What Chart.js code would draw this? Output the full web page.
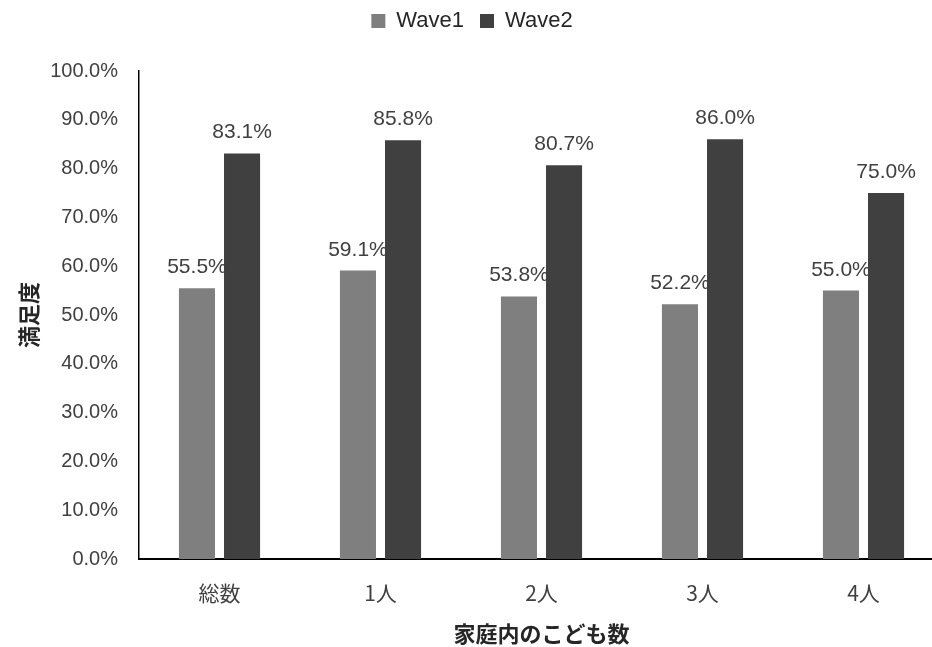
<!DOCTYPE html>
<html lang="ja">
<head>
    <meta charset="UTF-8">
    <title>家庭内のこども数と満足度</title>
    <script src="https://cdn.jsdelivr.net/npm/chart.js"></script>
    <style>
        html, body { margin: 0; padding: 0; background: #fff; overflow: hidden; }
        #wrap { width: 950px; height: 647px; }
    </style>
</head>
<body>
    <div id="wrap"><canvas id="satChart"></canvas></div>

    <script>
        const categories = ['総数', '1人', '2人', '3人', '4人'];
        const wave1 = [55.5, 59.1, 53.8, 52.2, 55.0];
        const wave2 = [83.1, 85.8, 80.7, 86.0, 75.0];
        const seriesNames = ['Wave1', 'Wave2'];
        const yTitle = '満足度';
        const xTitle = '家庭内のこども数';

        const numFont = '"Liberation Sans", Arial, sans-serif';
        const jpFont = '"Noto Sans CJK JP", "Noto Sans", sans-serif';

        // draws the value above each bar
        const valueLabels = {
            id: 'valueLabels',
            afterDatasetsDraw(chart) {
                const ctx = chart.ctx;
                ctx.save();
                ctx.font = '21px ' + numFont;
                ctx.fillStyle = '#404040';
                ctx.textAlign = 'center';
                ctx.textBaseline = 'alphabetic';
                chart.data.datasets.forEach((ds, i) => {
                    chart.getDatasetMeta(i).data.forEach((bar, j) => {
                        ctx.fillText(ds.data[j].toFixed(1) + '%', bar.x, bar.y - 15);
                    });
                });
                ctx.restore();
            }
        };

        // fixes the legend height so the plot starts where it should,
        // and nudges the legend up a little
        const legendHeight = {
            id: 'legendHeight',
            beforeInit(chart) {
                const fit = chart.legend.fit;
                chart.legend.fit = function () {
                    fit.bind(chart.legend)();
                    this.height = 71;
                };
            },
            afterLayout(chart) {
                chart.legend.top -= 6;
                chart.legend.bottom -= 6;
            }
        };

        new Chart(document.getElementById('satChart'), {
            type: 'bar',
            data: {
                labels: categories,
                datasets: [{
                    label: seriesNames[0],
                    data: wave1,
                    backgroundColor: '#7f7f7f',
                    categoryPercentage: 0.56,
                    barPercentage: 0.8
                }, {
                    label: seriesNames[1],
                    data: wave2,
                    backgroundColor: '#404040',
                    categoryPercentage: 0.56,
                    barPercentage: 0.8
                }]
            },
            options: {
                responsive: true,
                maintainAspectRatio: false,
                animation: false,
                layout: { padding: { left: 0, right: 6, top: 0, bottom: 0 } },
                plugins: {
                    legend: {
                        position: 'top',
                        labels: {
                            boxWidth: 14,
                            boxHeight: 14,
                            padding: 16,
                            color: '#262626',
                            font: { family: numFont, size: 22 }
                        }
                    },
                    tooltip: { enabled: false }
                },
                scales: {
                    x: {
                        grid: { display: false, drawTicks: false },
                        border: { color: '#000', width: 2 },
                        ticks: {
                            color: '#404040',
                            padding: 21,
                            font: { family: jpFont, size: 21 }
                        },
                        title: {
                            display: true,
                            text: xTitle,
                            color: '#262626',
                            padding: { top: 0, bottom: 0 },
                            font: { family: jpFont, size: 22, weight: 'bold' }
                        },
                        afterFit(scale) { scale.height = 88; }
                    },
                    y: {
                        min: 0,
                        max: 100,
                        grid: { display: false, drawTicks: false },
                        border: { color: '#000', width: 1.5 },
                        ticks: {
                            stepSize: 10,
                            color: '#404040',
                            padding: 21,
                            font: { family: numFont, size: 20 },
                            callback: v => v.toFixed(1) + '%'
                        },
                        title: {
                            display: true,
                            text: yTitle,
                            color: '#262626',
                            padding: { top: 15, bottom: 0 },
                            font: { family: jpFont, size: 22, weight: 'bold' }
                        },
                        afterFit(scale) { scale.width = 139; }
                    }
                }
            },
            plugins: [valueLabels, legendHeight]
        });
    </script>
</body>
</html>
